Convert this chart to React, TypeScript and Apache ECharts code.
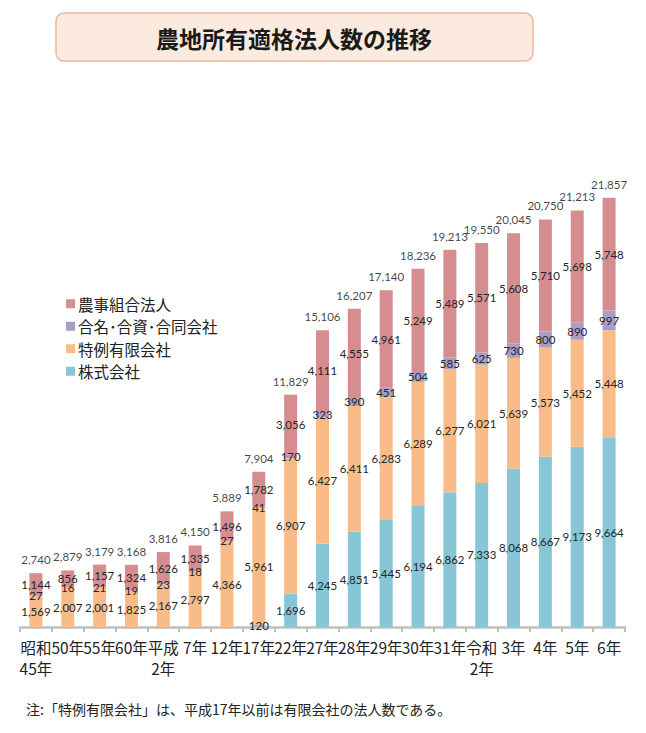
import React, { useEffect, useRef } from "react";
import * as echarts from "echarts";

const categories = [
  "昭和\n45年", "50年", "55年", "60年", "平成\n2年", "7年", "12年", "17年", "22年", "27年",
  "28年", "29年", "30年", "31年", "令和\n2年", "3年", "4年", "5年", "6年",
];
const kabushiki = [null, null, null, null, null, null, null, 120, 1696, 4245, 4851, 5445, 6194, 6862, 7333, 8068, 8667, 9173, 9664];
const tokurei = [1569, 2007, 2001, 1825, 2167, 2797, 4366, 5961, 6907, 6427, 6411, 6283, 6289, 6277, 6021, 5639, 5573, 5452, 5448];
const gomei = [27, 16, 21, 19, 23, 18, 27, 41, 170, 323, 390, 451, 504, 585, 625, 730, 800, 890, 997];
const noji = [1144, 856, 1157, 1324, 1626, 1335, 1496, 1782, 3056, 4111, 4555, 4961, 5249, 5489, 5571, 5608, 5710, 5698, 5748];
const totals = [2740, 2879, 3179, 3168, 3816, 4150, 5889, 7904, 11829, 15106, 16207, 17140, 18236, 19213, 19550, 20045, 20750, 21213, 21857];

const seriesNames = ["株式会社", "特例有限会社", "合名･合資･合同会社", "農事組合法人"];
const legendOrder = ["農事組合法人", "合名･合資･合同会社", "特例有限会社", "株式会社"];
const colors = ["#87c6d7", "#f9bc88", "#a99cc6", "#d58d90"];

const fmt = (v: any) => (v == null ? "" : Number(v).toLocaleString("en-US"));
const CJK = '"Noto Sans CJK JP", "Noto Sans", sans-serif';
const NUM = 'Lato, "Noto Sans", sans-serif';

export default function App() {
  const ref = useRef<HTMLDivElement>(null);
  useEffect(() => {
    if (!ref.current) return;
    const chart = echarts.init(ref.current, undefined, { renderer: "svg" });
    const dataSets = [kabushiki, tokurei, gomei, noji];
    const bars = dataSets.map((d, i) => ({
      name: seriesNames[i],
      type: "bar",
      stack: "all",
      barWidth: 13,
      data: d,
      itemStyle: { color: colors[i] },
      label: {
        show: true,
        position: "inside",
        color: "#262626",
        fontSize: 11.5,
        fontFamily: NUM,
        formatter: (p: any) => fmt(p.value),
      },
    }));
    chart.setOption({
      animation: false,
      backgroundColor: "#fff",
      grid: { left: 20, right: 21, top: 136, bottom: 106 },
      legend: {
        data: legendOrder,
        orient: "vertical",
        left: 61,
        top: 291,
        itemWidth: 9,
        itemHeight: 9,
        itemGap: 7,
        icon: "rect",
        textStyle: { fontSize: 15.5, fontFamily: CJK, color: "#222", padding: [0, 0, 0, -2] },
      },
      xAxis: {
        type: "category",
        data: categories,
        axisLine: { lineStyle: { color: "#bfbfbf", width: 2.5 } },
        axisTick: { show: true, length: 5, lineStyle: { color: "#bfbfbf", width: 2 } },
        axisLabel: {
          interval: 0,
          fontSize: 15.5,
          fontFamily: CJK,
          color: "#222",
          lineHeight: 21,
          margin: 9,
        },
      },
      yAxis: { type: "value", min: 0, max: 25000, show: false, splitLine: { show: false } },
      series: [
        ...bars,
        {
          name: "合計",
          type: "scatter",
          data: totals,
          symbolSize: 1,
          itemStyle: { color: "rgba(0,0,0,0)" },
          label: {
            show: true,
            position: "top",
            distance: 7,
            color: "#111",
            fontSize: 11.5,
            fontFamily: NUM,
            formatter: (p: any) => fmt(p.value),
          },
          z: 5,
        },
      ],
      graphic: [
        {
          type: "rect",
          shape: { x: 56, y: 13, width: 477, height: 48, r: 8 },
          style: { fill: "#fdeadf", stroke: "#e9b89b", lineWidth: 1.5 },
        },
        {
          type: "text",
          x: 294,
          y: 38,
          style: {
            text: "農地所有適格法人数の推移",
            fontSize: 23,
            fontWeight: "bold",
            fontFamily: CJK,
            fill: "#1a1a1a",
            textAlign: "center",
            textVerticalAlign: "middle",
          },
        },
        {
          type: "text",
          x: 26,
          y: 709,
          style: {
            text: "注:「特例有限会社」は、平成17年以前は有限会社の法人数である。",
            fontSize: 14,
            fontFamily: CJK,
            fill: "#222",
            textAlign: "left",
            textVerticalAlign: "middle",
          },
        },
      ],
    });
    return () => chart.dispose();
  }, []);
  return (
    <div
      ref={ref}
      style={{ position: "fixed", left: 0, top: 0, width: 646, height: 733, background: "#fff" }}
    />
  );
}
